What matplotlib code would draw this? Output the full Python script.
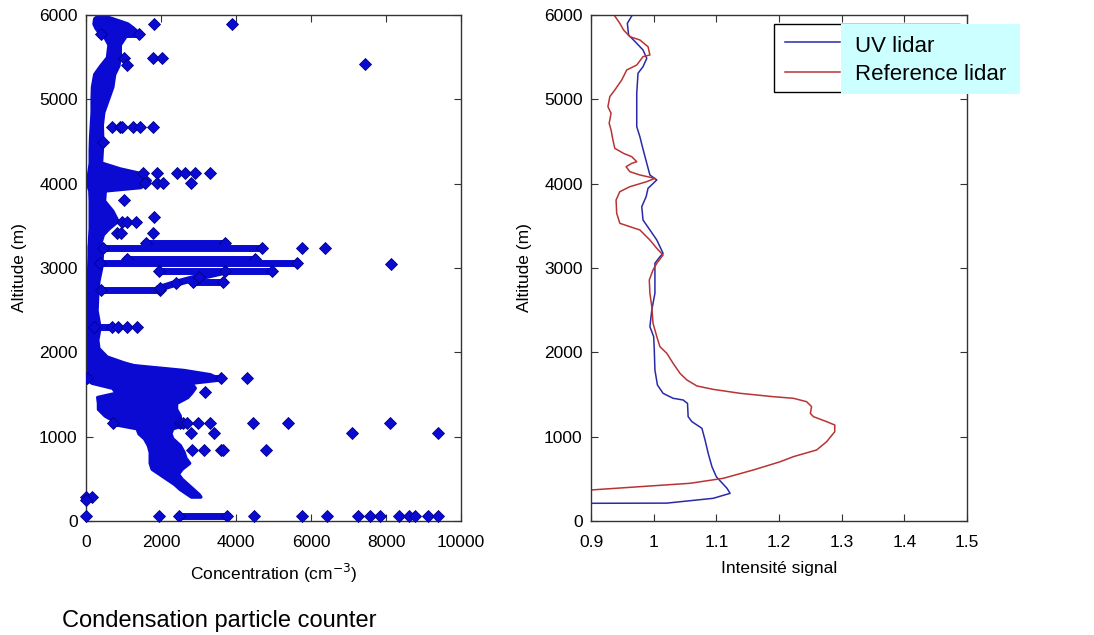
import matplotlib

matplotlib.use("Agg")
import matplotlib.pyplot as plt
from matplotlib.lines import Line2D
from matplotlib.patches import Rectangle

plt.rcParams["font.family"] = ["Liberation Sans", "DejaVu Sans"]

# ---- left panel: condensation particle counter (conc in cm-3, altitude in m)
BAND_ALT = [6000, 5960, 5900, 5850, 5790, 5750, 5650, 5500, 5400, 5300, 5150, 5000,
            4850, 4700, 4550, 4400, 4250, 4180, 4120, 4040, 3960, 3920, 3800, 3680,
            3560, 3470, 3400, 3300, 3250, 3150, 3000, 2850, 2700, 2500, 2300, 2150,
            2050, 1950, 1880, 1830, 1790]
BAND_LO = [330, 220, 200, 250, 350, 480, 600, 560, 380, 220, 160, 150,
           150, 130, 110, 100, 100, 80, 60, 50, 60, 90, 100, 100,
           100, 100, 90, 80, 70, 70, 60, 50, 40, 40, 50, 30,
           30, 30, 40, 60, 60]
BAND_HI = [420, 700, 1100, 1250, 1400, 1050, 900, 900, 860, 750, 700, 580,
           460, 420, 430, 420, 400, 900, 1500, 1700, 1450, 500, 480, 700,
           840, 600, 450, 380, 400, 420, 400, 330, 300, 280, 360, 300,
           330, 550, 1000, 1400, 2000]

LOW_ALT = [1850, 1790, 1740, 1680, 1640, 1580, 1520, 1470, 1400, 1330, 1250, 1200,
           1150, 1100, 1040, 980, 900, 820, 750, 690, 620, 560, 500, 440, 380, 320, 290]
LOW_LO = [60, 30, 20, 20, 150, 700, 800, 300, 320, 320, 500, 700,
          750, 1350, 1400, 1550, 1650, 1700, 1700, 1700, 1750, 1950, 2150, 2350, 2500, 2700, 2800]
LOW_HI = [1200, 2600, 3300, 3600, 2800, 2900, 2800, 2700, 2400, 2400, 2500, 2500,
          2700, 2300, 2250, 2300, 2500, 2600, 2650, 2750, 2550, 2450, 2550, 2700, 2850, 3000, 3050]

# dense horizontal runs of samples
RUN_ALT = [5780, 3300, 3234, 3110, 3056, 2960, 2830, 2739, 2304, 1700, 1158, 63]
RUN_C0 = [400, 1600, 450, 1100, 370, 1950, 2860, 400, 200, 20, 730, 2470]
RUN_C1 = [1400, 3700, 4680, 4500, 5620, 4950, 3660, 1970, 700, 3600, 2500, 3750]

BRANCH_CONC = [3700, 3000, 2400, 1970]
BRANCH_ALT = [2960, 2890, 2820, 2760]

# isolated samples
PT_CONC = [1822, 3893, 7440, 1022, 1778, 2018, 1085,
           685, 907, 950, 1262, 1440, 1795, 462,
           1528, 1885, 2418, 2640, 2907, 3307,
           1573, 1885, 2062, 2800, 1022, 1813, 950, 1085, 1333,
           818, 925, 1795, 5751, 6373, 8133, 862, 1085, 1351,
           4284, 3173, 2595, 2685, 2995, 3307, 4462, 5395, 8107,
           2791, 3413, 7085, 9395, 2836, 3147, 3591, 3662, 4800,
           0, 150, 0, 0, 1955, 4489, 5751, 6418, 7262, 7573, 7840,
           8355, 8622, 8773, 9129, 9395]
PT_ALT = [5893, 5893, 5419, 5486, 5486, 5486, 5407,
          4676, 4676, 4676, 4676, 4676, 4676, 4498,
          4123, 4123, 4123, 4123, 4123, 4123,
          4004, 4004, 4004, 4004, 3806, 3600, 3550, 3550, 3550,
          3411, 3411, 3411, 3234, 3234, 3050, 2304, 2304, 2304,
          1690, 1533, 1158, 1158, 1158, 1158, 1158, 1158, 1158,
          1047, 1047, 1047, 1047, 842, 842, 842, 842, 842,
          288, 288, 250, 63, 63, 63, 63, 63, 63, 63, 63,
          63, 63, 63, 63, 63]

# ---- right panel: lidar profiles
UV_ALT = [210, 212, 269, 328, 388, 525, 644, 803, 960, 1099, 1178, 1237, 1395, 1435,
          1455, 1514, 1613, 1790, 2028, 2186, 2304, 2502, 2700, 2898, 3056, 3134,
          3174, 3332, 3451, 3569, 3727, 3846, 3945, 4044, 4103, 4241, 4438, 4557,
          4676, 4874, 5072, 5309, 5387, 5486, 5585, 5664, 5763, 5901, 5988]
UV_VAL = [0.900, 1.021, 1.095, 1.122, 1.117, 1.100, 1.093, 1.087, 1.082, 1.077, 1.061,
          1.055, 1.054, 1.047, 1.031, 1.015, 1.006, 1.002, 1.001, 1.000, 0.994, 0.997,
          1.002, 1.002, 1.002, 1.010, 1.015, 1.005, 0.994, 0.983, 0.981, 0.988, 0.991,
          1.005, 0.994, 0.989, 0.982, 0.978, 0.973, 0.973, 0.973, 0.975, 0.983, 0.989,
          0.983, 0.973, 0.960, 0.958, 0.965]

REF_ALT = [368, 407, 447, 506, 605, 703, 763, 842, 940, 1059, 1138, 1178, 1237, 1276,
           1356, 1415, 1455, 1474, 1514, 1561, 1601, 1672, 1751, 1870, 1988, 2067,
           2186, 2344, 2541, 2700, 2858, 2977, 3056, 3154, 3233, 3332, 3451, 3490,
           3530, 3649, 3806, 3905, 3964, 4024, 4063, 4103, 4142, 4201, 4241, 4260,
           4320, 4359, 4419, 4518, 4637, 4716, 4834, 4913, 5032, 5111, 5229, 5348,
           5407, 5506, 5526, 5624, 5704, 5743, 5822, 5901, 5988]
REF_VAL = [0.900, 0.978, 1.058, 1.111, 1.159, 1.202, 1.223, 1.260, 1.276, 1.289, 1.289,
           1.276, 1.255, 1.250, 1.252, 1.244, 1.223, 1.191, 1.138, 1.095, 1.069, 1.053,
           1.042, 1.031, 1.021, 1.010, 1.005, 0.999, 0.997, 0.994, 0.993, 0.999, 1.005,
           1.015, 1.005, 0.994, 0.978, 0.962, 0.946, 0.941, 0.940, 0.946, 0.962, 0.989,
           1.002, 0.978, 0.962, 0.956, 0.965, 0.973, 0.965, 0.952, 0.938, 0.935, 0.932,
           0.929, 0.932, 0.927, 0.930, 0.938, 0.949, 0.957, 0.973, 0.983, 0.994, 0.991,
           0.978, 0.962, 0.952, 0.946, 0.938]

BLUE = "#0a0ad2"
BLUE_EDGE = "#00008c"
UV_COLOR = "#2a2aa8"
REF_COLOR = "#b83434"
FS = 12.5


def style_axes(ax):
    ax.tick_params(direction="in", length=5, top=True, right=True, labelsize=FS,
                   color="#333333")
    ax.tick_params(axis="x", pad=10)
    ax.tick_params(axis="y", pad=6)
    for sp in ax.spines.values():
        sp.set_color("#333333")
        sp.set_linewidth(1.0)


fig = plt.figure(figsize=(10.94, 6.35), dpi=100)
ax1 = fig.add_axes([86 / 1094, 1 - 521 / 635, 375 / 1094, 506 / 635])
ax2 = fig.add_axes([591 / 1094, 1 - 521 / 635, 376 / 1094, 506 / 635])

# left panel
ax1.fill_betweenx(BAND_ALT, BAND_LO, BAND_HI, color=BLUE, lw=2.5, zorder=2)
ax1.fill_betweenx(LOW_ALT, LOW_LO, LOW_HI, color=BLUE, lw=2.5, zorder=2)
for a, c0, c1 in zip(RUN_ALT, RUN_C0, RUN_C1):
    ax1.plot([c0, c1], [a, a], color=BLUE, lw=5, marker="D", ms=6,
             mfc=BLUE, mec=BLUE_EDGE, mew=0.6, zorder=3)
ax1.plot(BRANCH_CONC, BRANCH_ALT, color=BLUE, lw=5, marker="D", ms=6,
         mfc=BLUE, mec=BLUE_EDGE, mew=0.6, zorder=3)
ax1.plot(PT_CONC, PT_ALT, ls="none", marker="D", ms=6, mfc=BLUE,
         mec=BLUE_EDGE, mew=0.6, zorder=4, clip_on=False)
ax1.set_xlim(0, 10000)
ax1.set_ylim(0, 6000)
ax1.set_xticks([0, 2000, 4000, 6000, 8000, 10000])
ax1.set_yticks([0, 1000, 2000, 3000, 4000, 5000, 6000])
ax1.set_xlabel("Concentration (cm$^{-3}$)", fontsize=FS, labelpad=9)
ax1.set_ylabel("Altitude (m)", fontsize=FS, labelpad=9)
style_axes(ax1)

# right panel
ax2.plot(UV_VAL, UV_ALT, color=UV_COLOR, lw=1.1, label="UV lidar")
ax2.plot(REF_VAL, REF_ALT, color=REF_COLOR, lw=1.1, label="Reference lidar")
ax2.set_xlim(0.9, 1.5)
ax2.set_ylim(0, 6000)
ax2.set_xticks([0.9, 1.0, 1.1, 1.2, 1.3, 1.4, 1.5])
ax2.set_xticklabels(["0.9", "1", "1.1", "1.2", "1.3", "1.4", "1.5"])
ax2.set_yticks([0, 1000, 2000, 3000, 4000, 5000, 6000])
ax2.set_xlabel("Intensité signal", fontsize=FS, labelpad=8)
ax2.set_ylabel("Altitude (m)", fontsize=FS, labelpad=9)
style_axes(ax2)

# legend box (MATLAB style) with a pasted cyan label panel on top
W, H = 1094, 635
fig.patches.append(Rectangle((774 / W, 1 - 92 / H), 186 / W, 68 / H,
                             transform=fig.transFigure, facecolor="white",
                             edgecolor="black", lw=1.0, zorder=5))
fig.lines.append(Line2D([785 / W, 840 / W], [1 - 42 / H, 1 - 42 / H],
                        transform=fig.transFigure, color=UV_COLOR, lw=1.1, zorder=6))
fig.lines.append(Line2D([785 / W, 840 / W], [1 - 72 / H, 1 - 72 / H],
                        transform=fig.transFigure, color=REF_COLOR, lw=1.1, zorder=6))
fig.patches.append(Rectangle((841 / W, 1 - 94 / H), 179 / W, 70 / H,
                             transform=fig.transFigure, facecolor="#ccffff",
                             edgecolor="none", zorder=7))
fig.text(855 / W, 1 - 46 / H, "UV lidar", fontsize=16, va="center", zorder=8)
fig.text(855 / W, 1 - 74 / H, "Reference lidar", fontsize=16, va="center", zorder=8)

fig.text(62 / W, 1 - 621 / H, "Condensation particle counter", fontsize=17,
         va="center")

fig.savefig("out.png", dpi=100)
